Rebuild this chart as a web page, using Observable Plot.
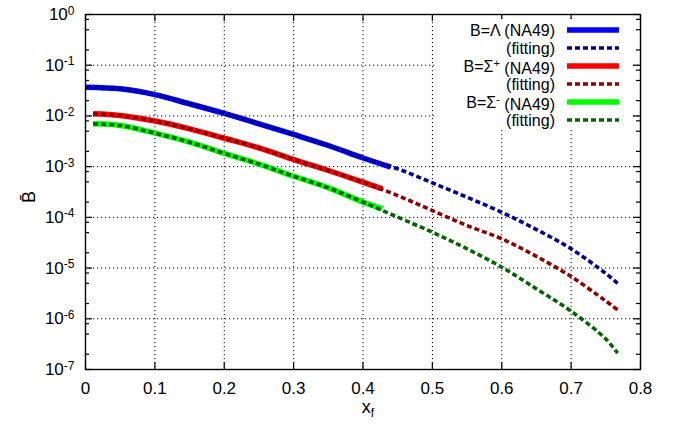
<!DOCTYPE html>
<html><head><meta charset="utf-8">
<script src="https://cdn.jsdelivr.net/npm/d3@7"></script>
<script src="https://cdn.jsdelivr.net/npm/@observablehq/plot@0.6"></script>
<style>
body{margin:0;background:#fff;}
#wrap{position:relative;width:684px;height:428px;font-family:"Liberation Sans",Arial,sans-serif;}
#legend{position:absolute;left:437px;top:19px;width:195px;height:111px;background:#fff;}
</style></head><body><div id="wrap"></div>
<script>
// ---- data ----
const xFitLambda = [0, 0.05, 0.1, 0.15, 0.2, 0.25, 0.3, 0.35, 0.4, 0.45, 0.5, 0.55, 0.6, 0.65, 0.7, 0.75, 0.767];
const fitLambda  = [0.0369, 0.0342, 0.0263, 0.0173, 0.0112, 0.00698, 0.00431, 0.00261, 0.00148, 0.000904, 0.000479, 0.000249, 0.000126, 5.75e-5, 2.4e-5, 7.8e-6, 5.0e-6];
const xNA49Lambda = [0, 0.05, 0.1, 0.15, 0.2, 0.25, 0.3, 0.35, 0.4, 0.44];
const na49Lambda  = [0.0369, 0.0342, 0.0263, 0.0173, 0.0112, 0.00698, 0.00431, 0.00261, 0.00148, 0.00098];

const xFitSigma = [0.011, 0.05, 0.1, 0.15, 0.2, 0.25, 0.3, 0.35, 0.4, 0.45, 0.5, 0.55, 0.6, 0.65, 0.7, 0.75, 0.767];
const fitSigmaP = [0.0110, 0.0102, 0.00794, 0.00557, 0.00363, 0.00234, 0.00138, 0.000839, 0.000493, 0.000269, 0.000136, 6.9e-5, 3.77e-5, 1.70e-5, 6.8e-6, 2.24e-6, 1.50e-6];
const fitSigmaM = [0.00698, 0.00646, 0.00457, 0.00303, 0.00182, 0.00112, 0.000646, 0.000382, 0.0002, 0.000101, 5.09e-5, 2.4e-5, 1.04e-5, 3.89e-6, 1.41e-6, 4.0e-7, 2.1e-7];
const xNA49Sigma = [0.011, 0.05, 0.1, 0.15, 0.2, 0.25, 0.3, 0.35, 0.4, 0.428];
const na49SigmaP = [0.0110, 0.0102, 0.00794, 0.00557, 0.00363, 0.00234, 0.00138, 0.000839, 0.000493, 0.000363];
const na49SigmaM = [0.00698, 0.00646, 0.00457, 0.00303, 0.00182, 0.00112, 0.000646, 0.000382, 0.0002, 0.000148];

const xTicks = [0, 0.1, 0.2, 0.3, 0.4, 0.5, 0.6, 0.7, 0.8];
const xGrid = [0.1, 0.2, 0.3, 0.4, 0.5, 0.6, 0.7];
const yTicks = [1e-7, 1e-6, 1e-5, 1e-4, 1e-3, 1e-2, 1e-1, 1];
const yGrid = [1e-6, 1e-5, 1e-4, 1e-3, 1e-2, 1e-1];
const yMinorMantissa = [2, 5, 8];
const yMinor = yTicks.slice(0, -1).flatMap(p => yMinorMantissa.map(m => m * p));

const solidColors = ["#0000ff", "#ff0000", "#00ff00"];
const fitColors = ["#00008b", "#8b0000", "#006400"];

const toRows = (xs, ys) => xs.map((x, i) => ({x, y: ys[i]}));
const na49 = [toRows(xNA49Lambda, na49Lambda), toRows(xNA49Sigma, na49SigmaP), toRows(xNA49Sigma, na49SigmaM)];
const fits = [toRows(xFitLambda, fitLambda), toRows(xFitSigma, fitSigmaP), toRows(xFitSigma, fitSigmaM)];

// ---- layout ----
const W = 684, H = 428, mL = 85, mR = 44, mT = 14, mB = 59;
const pw = W - mL - mR, ph = H - mT - mB;
const majorLen = 7, minorLen = 4;
const font = "Liberation Sans, Arial, Helvetica, sans-serif";

const supFmt = d => "10^" + Math.round(Math.log10(d));

const chart = Plot.plot({
  width: W, height: H,
  marginLeft: mL, marginRight: mR, marginTop: mT, marginBottom: mB,
  style: {fontFamily: font, fontSize: "17px", background: "#fff", color: "#000", overflow: "visible"},
  x: {type: "linear", domain: [0, 0.8]},
  y: {type: "log", domain: [1e-7, 1]},
  marks: [
    Plot.gridX(xGrid, {stroke: "#000", strokeOpacity: 1, strokeWidth: 1, strokeDasharray: "1.2,2.8"}),
    Plot.gridY(yGrid, {stroke: "#000", strokeOpacity: 1, strokeWidth: 1, strokeDasharray: "1.2,2.8"}),
    // inward ticks on all four sides
    Plot.tickX(xTicks, {x: d => d, insetTop: ph - majorLen, stroke: "#000", strokeWidth: 1.2}),
    Plot.tickX(xTicks, {x: d => d, insetBottom: ph - majorLen, stroke: "#000", strokeWidth: 1.2}),
    Plot.tickY(yTicks, {y: d => d, insetRight: pw - majorLen, stroke: "#000", strokeWidth: 1.2}),
    Plot.tickY(yTicks, {y: d => d, insetLeft: pw - majorLen, stroke: "#000", strokeWidth: 1.2}),
    Plot.tickY(yMinor, {y: d => d, insetRight: pw - minorLen, stroke: "#000", strokeWidth: 1.2}),
    Plot.tickY(yMinor, {y: d => d, insetLeft: pw - minorLen, stroke: "#000", strokeWidth: 1.2}),
    Plot.axisX(xTicks, {anchor: "bottom", tickSize: 0, tickPadding: 12, tickFormat: d => String(+d.toFixed(1)), label: null, fontSize: 17}),
    Plot.axisY(yTicks, {anchor: "left", tickSize: 0, tickPadding: 11, tickFormat: supFmt, label: null, fontSize: 17}),
    ...na49.map((rows, i) => Plot.line(rows, {x: "x", y: "y", stroke: solidColors[i], strokeWidth: 5.5, strokeLinecap: "butt", curve: "catmull-rom"})),
    ...fits.map((rows, i) => Plot.line(rows, {x: "x", y: "y", stroke: fitColors[i], strokeWidth: 3.6, strokeDasharray: "5,3", strokeLinecap: "butt", curve: "catmull-rom"})),
    Plot.frame({stroke: "#000", strokeWidth: 1.4})
  ]
});

// superscripts in y tick labels
d3.select(chart).selectAll('g[aria-label="y-axis tick label"] text').each(function() {
  const t = this.textContent;
  if (!t.includes("^")) return;
  const [b, e] = t.split("^");
  const sel = d3.select(this).text(null);
  sel.append("tspan").text(b);
  sel.append("tspan").attr("dy", "-0.45em").attr("font-size", "12px").text(e);
});

const svg = d3.select(chart);
// axis titles
const yl = svg.append("text").attr("transform", "translate(35,197) rotate(-90)")
  .attr("text-anchor", "middle").attr("font-size", 18).attr("font-family", font);
yl.text("B\u0304");
const xl = svg.append("text").attr("x", 368).attr("y", 413).attr("text-anchor", "middle")
  .attr("font-size", 18).attr("font-family", font);
xl.append("tspan").text("x");
xl.append("tspan").attr("dy", "0.3em").attr("font-size", "12px").text("f");

document.getElementById("wrap").appendChild(chart);

// ---- legend (opaque, inside the plot) ----
const legendRows = [
  {pre: "B=Λ", sup: "", post: " (NA49)", color: solidColors[0], dash: null, w: 5.5},
  {pre: "(fitting)", sup: "", post: "", color: fitColors[0], dash: "5,3", w: 3.6},
  {pre: "B=Σ", sup: "+", post: " (NA49)", color: solidColors[1], dash: null, w: 5.5},
  {pre: "(fitting)", sup: "", post: "", color: fitColors[1], dash: "5,3", w: 3.6},
  {pre: "B=Σ", sup: "-", post: " (NA49)", color: solidColors[2], dash: null, w: 5.5},
  {pre: "(fitting)", sup: "", post: "", color: fitColors[2], dash: "5,3", w: 3.6}
];
const leg = d3.select("#wrap").append("div").attr("id", "legend")
  .append("svg").attr("width", 195).attr("height", 111).style("font-family", font);
legendRows.forEach((r, i) => {
  const cy = 11 + i * 18;
  const t = leg.append("text").attr("x", 118).attr("y", cy).attr("dy", "0.35em")
    .attr("text-anchor", "end").attr("font-size", 16);
  t.append("tspan").text(r.pre);
  if (r.sup) {
    t.append("tspan").attr("dy", "-0.45em").attr("font-size", "11px").text(r.sup);
    t.append("tspan").attr("dy", "0.45em").text(r.post);
  } else if (r.post) t.append("tspan").text(r.post);
  leg.append("line").attr("x1", 130).attr("x2", 182).attr("y1", cy).attr("y2", cy)
    .attr("stroke", r.color).attr("stroke-width", r.w).attr("stroke-dasharray", r.dash);
});
</script></body></html>
